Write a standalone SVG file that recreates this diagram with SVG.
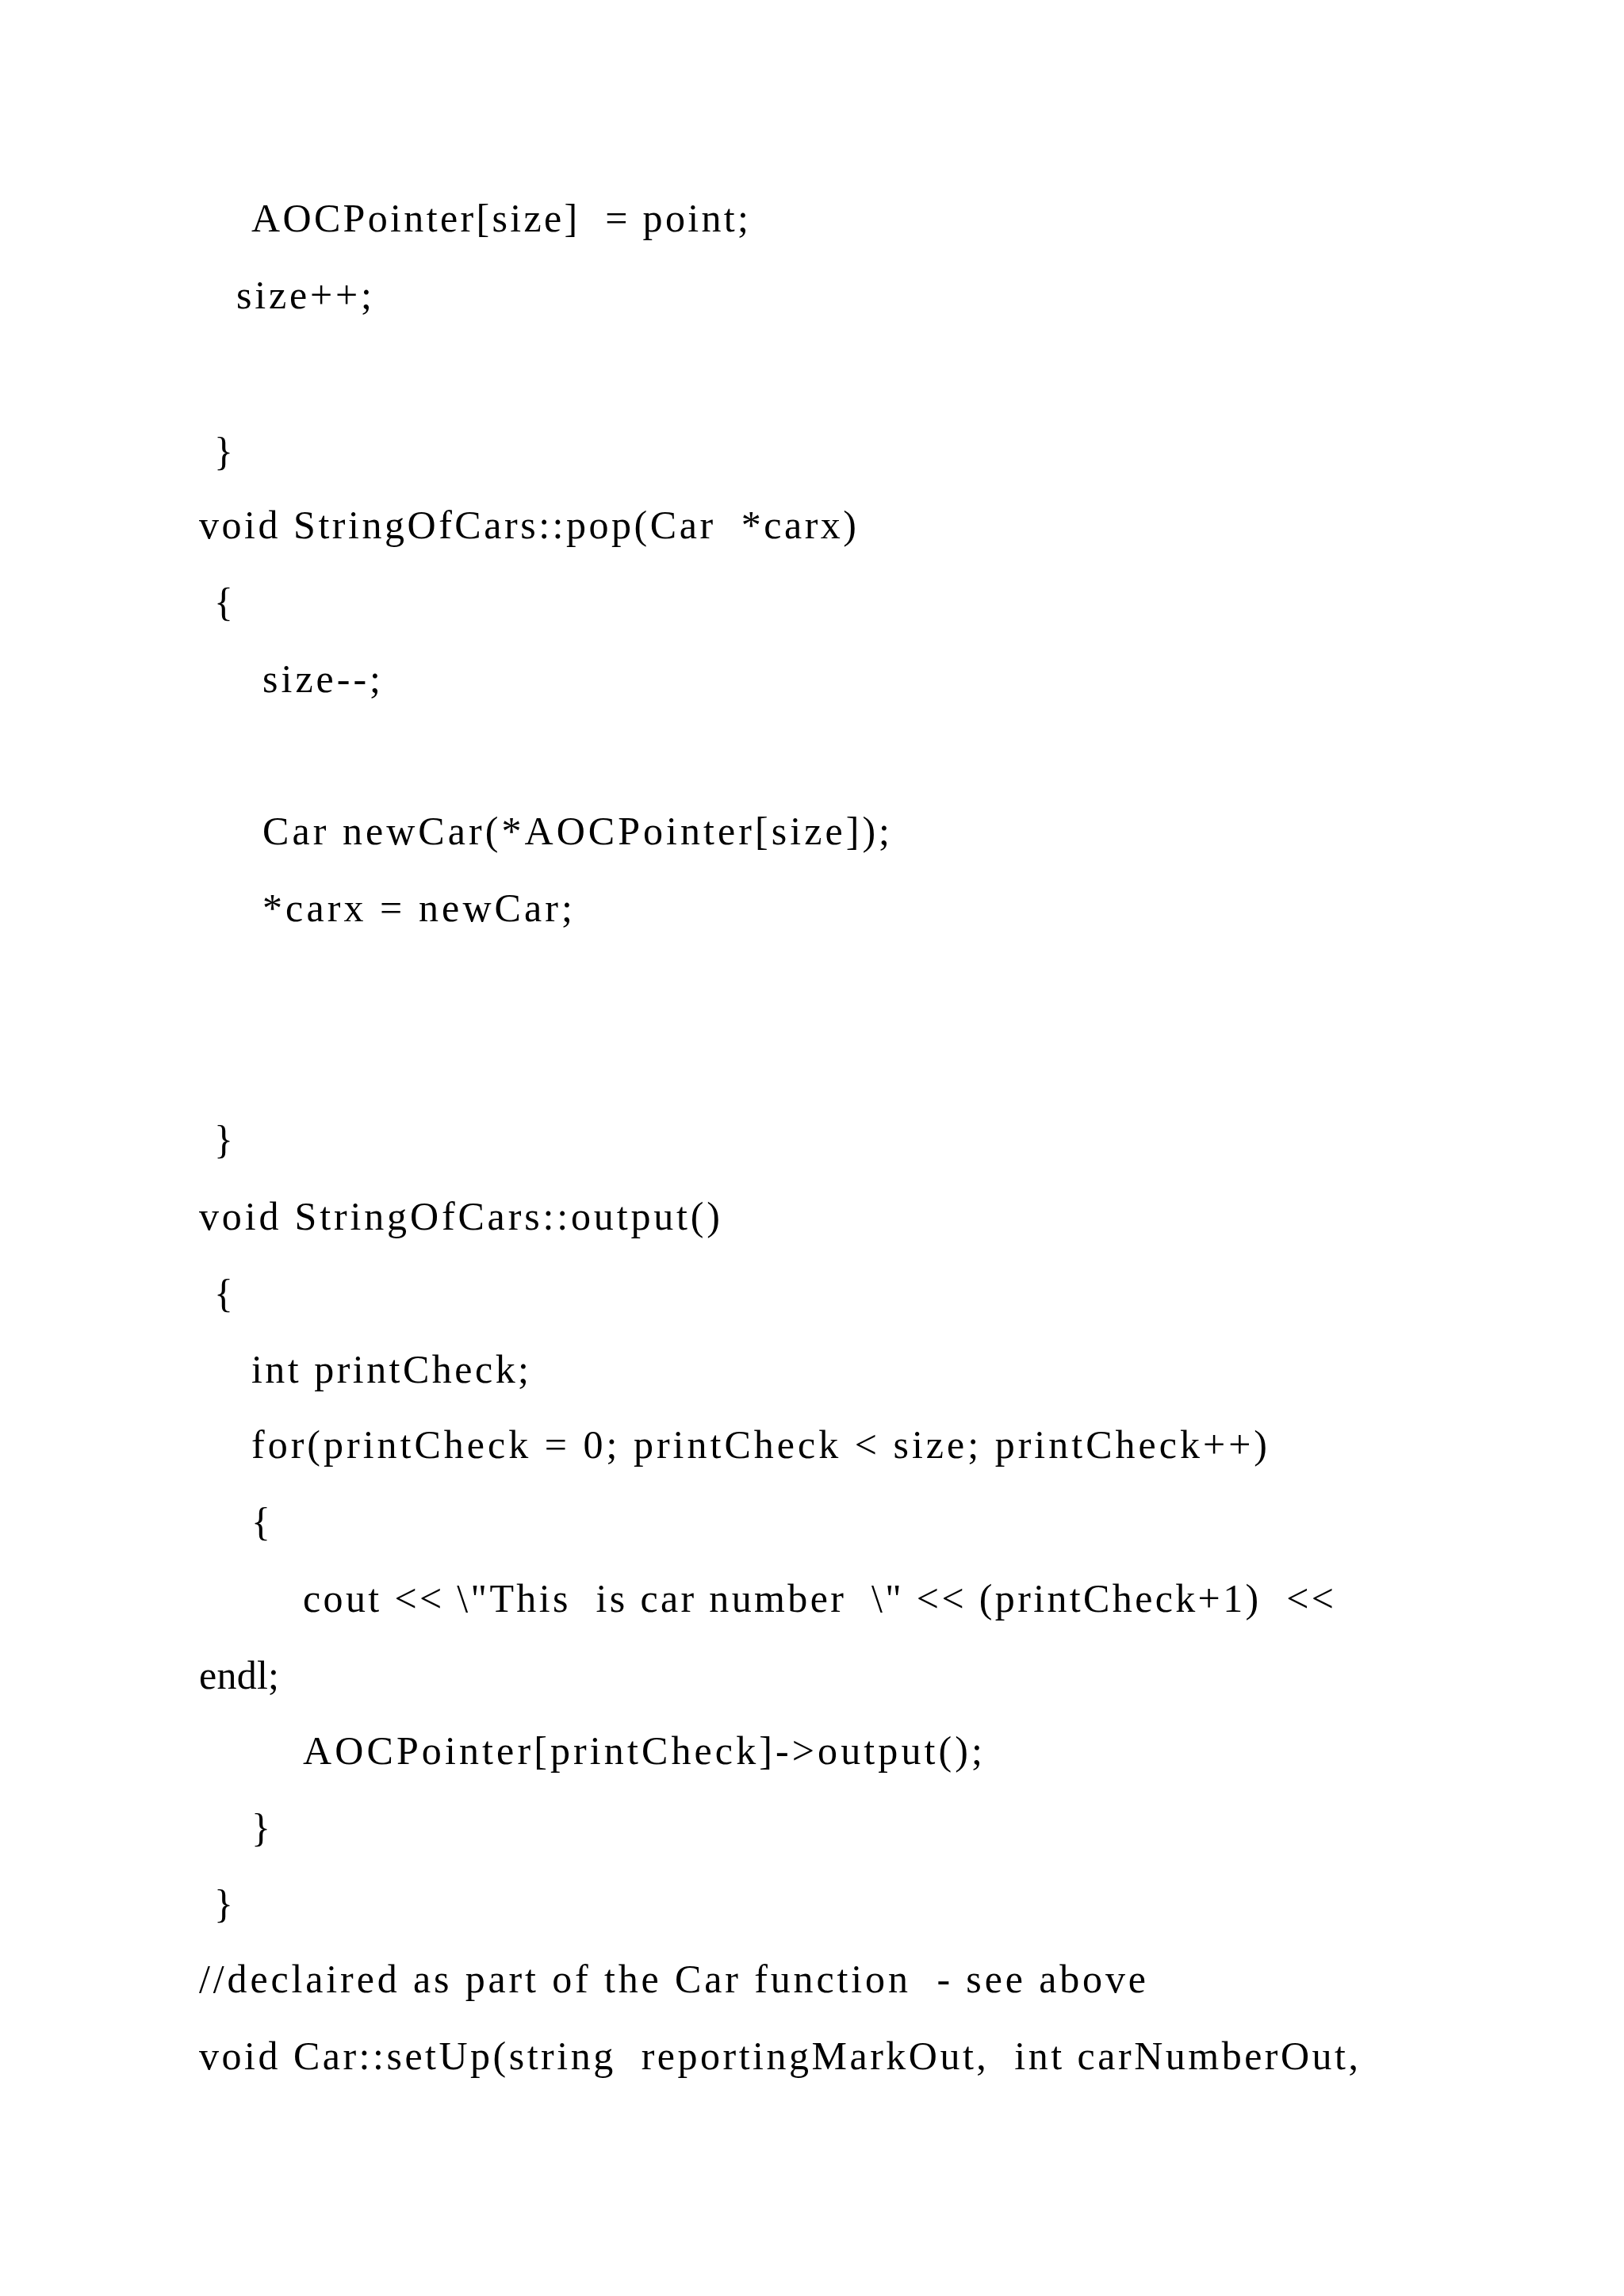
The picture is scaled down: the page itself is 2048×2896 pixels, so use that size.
<svg xmlns="http://www.w3.org/2000/svg" width="2048" height="2896" viewBox="0 0 2048 2896">
<style>text{font-family:"Liberation Serif",serif;font-size:50px;fill:#000;white-space:pre}</style>
<rect width="2048" height="2896" fill="#fff"/>
<g id="code" xml:space="preserve">
<text x="317" y="292" textLength="627" lengthAdjust="spacing">AOCPointer[size]  = point;</text>
<text x="298" y="389" textLength="171" lengthAdjust="spacing">size++;</text>
<text x="270" y="586">}</text>
<text x="251" y="679" textLength="829" lengthAdjust="spacing">void StringOfCars::pop(Car  *carx)</text>
<text x="270" y="776">{</text>
<text x="331" y="873" textLength="149" lengthAdjust="spacing">size--;</text>
<text x="331" y="1065" textLength="791" lengthAdjust="spacing">Car newCar(*AOCPointer[size]);</text>
<text x="331" y="1162" textLength="391" lengthAdjust="spacing">*carx = newCar;</text>
<text x="270" y="1454">}</text>
<text x="251" y="1551" textLength="657" lengthAdjust="spacing">void StringOfCars::output()</text>
<text x="270" y="1648">{</text>
<text x="317" y="1744" textLength="350" lengthAdjust="spacing">int printCheck;</text>
<text x="317" y="1839" textLength="1281" lengthAdjust="spacing">for(printCheck = 0; printCheck &lt; size; printCheck++)</text>
<text x="317" y="1936">{</text>
<text x="382" y="2033" textLength="1300" lengthAdjust="spacing">cout &lt;&lt; \"This  is car number  \" &lt;&lt; (printCheck+1)  &lt;&lt;</text>
<text x="251" y="2130" textLength="101" lengthAdjust="spacing">endl;</text>
<text x="382" y="2225" textLength="857" lengthAdjust="spacing">AOCPointer[printCheck]-&gt;output();</text>
<text x="317" y="2322">}</text>
<text x="270" y="2418">}</text>
<text x="251" y="2513" textLength="1194" lengthAdjust="spacing">//declaired as part of the Car function  - see above</text>
<text x="251" y="2610" textLength="1462" lengthAdjust="spacing">void Car::setUp(string  reportingMarkOut,  int carNumberOut,</text>
</g>
</svg>
